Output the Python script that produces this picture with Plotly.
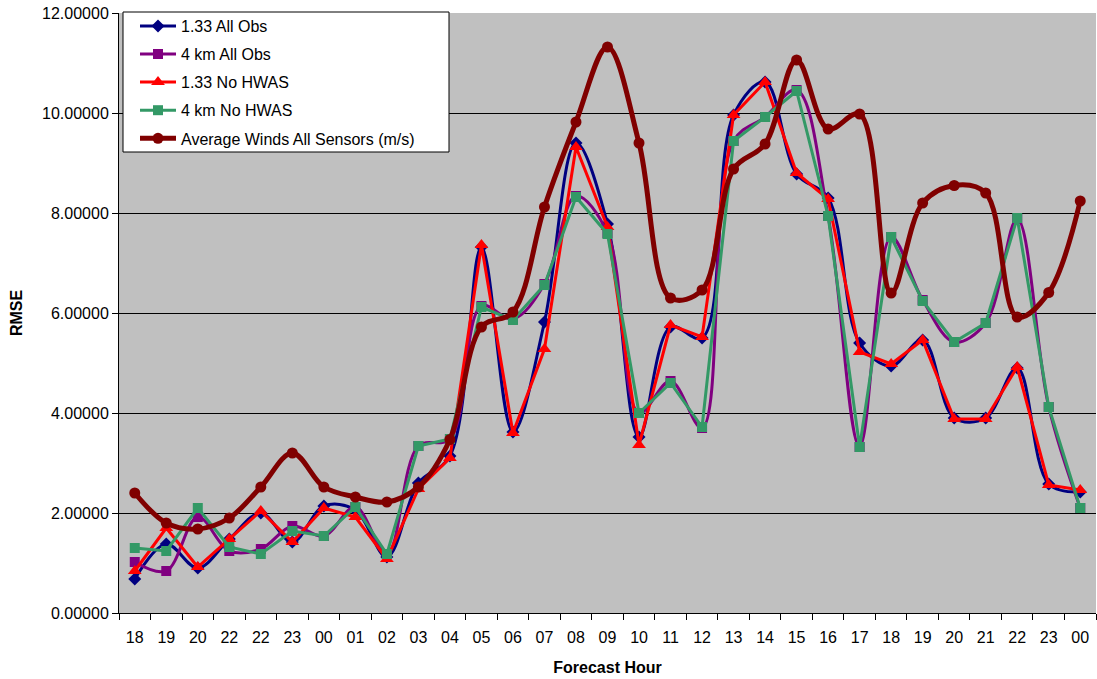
import plotly.graph_objects as go

# Forecast hour labels (31 consecutive forecast steps)
hours = ["18", "19", "20", "22", "22", "23", "00", "01", "02", "03", "04", "05",
         "06", "07", "08", "09", "10", "11", "12", "13", "14", "15", "16", "17",
         "18", "19", "20", "21", "22", "23", "00"]

all_obs_133 = [0.68, 1.38, 0.90, 1.48, 2.00, 1.42, 2.14, 2.06, 1.12, 2.60, 3.14,
               7.32, 3.62, 5.82, 9.40, 7.78, 3.52, 5.72, 5.50, 9.96, 10.62,
               8.78, 8.30, 5.40, 4.94, 5.46, 3.90, 3.90, 4.90, 2.58, 2.42]
all_obs_4km = [1.02, 0.84, 1.92, 1.24, 1.28, 1.74, 1.54, 2.12, 1.18, 3.34, 3.48,
               6.14, 5.88, 6.58, 8.34, 7.60, 4.00, 4.64, 3.70, 9.44, 9.92,
               10.46, 7.94, 3.32, 7.52, 6.26, 5.42, 5.80, 7.88, 4.12, 2.10]
no_hwas_133 = [0.84, 1.70, 0.92, 1.48, 2.04, 1.42, 2.10, 1.92, 1.08, 2.48, 3.10,
               7.36, 3.60, 5.28, 9.32, 7.72, 3.36, 5.76, 5.52, 9.96, 10.62,
               8.80, 8.28, 5.22, 4.98, 5.46, 3.88, 3.88, 4.92, 2.56, 2.46]
no_hwas_4km = [1.30, 1.24, 2.10, 1.32, 1.18, 1.64, 1.54, 2.12, 1.18, 3.34, 3.48,
               6.12, 5.86, 6.56, 8.32, 7.58, 4.00, 4.60, 3.72, 9.44, 9.92,
               10.44, 7.94, 3.32, 7.52, 6.24, 5.42, 5.80, 7.90, 4.12, 2.10]
avg_winds = [2.40, 1.80, 1.68, 1.90, 2.52, 3.20, 2.52, 2.32, 2.22, 2.52, 3.47,
             5.72, 6.02, 8.12, 9.82, 11.32, 9.40, 6.30, 6.46, 8.88, 9.38,
             11.06, 9.68, 9.98, 6.40, 8.20, 8.55, 8.40, 5.92, 6.41, 8.24]

x = list(range(len(hours)))

series = [
    ("1.33 All Obs", all_obs_133, "#000080", "diamond", 10, "spline", 3),
    ("4 km All Obs", all_obs_4km, "#800080", "square", 10, "spline", 3),
    ("1.33 No HWAS", no_hwas_133, "#FF0000", "triangle-up", 12, "linear", 3),
    ("4 km No HWAS", no_hwas_4km, "#339966", "square", 10, "linear", 3),
    ("Average Winds All Sensors (m/s)", avg_winds, "#800000", "circle", 11, "spline", 5),
]

fig = go.Figure()
for name, vals, color, symbol, msize, shape, lw in series:
    fig.add_trace(go.Scatter(
        x=x, y=vals, name=name, mode="lines+markers",
        line=dict(color=color, width=lw, shape=shape, smoothing=1.0),
        marker=dict(symbol=symbol, size=msize, color=color),
        legendgroup=name,
    ))

font_main = "Liberation Sans, Arial, sans-serif"

# plot-area geometry in pixels, used to place the legend frame
L, R, T, B = 119, 1096, 13, 613
W, H = R - L, B - T


def px_x(p):
    return (p - L) / W


def px_y(p):
    return (B - p) / H


fig.update_layout(
    width=1097, height=679,
    margin=dict(l=L, r=1097 - R, t=T, b=679 - B),
    paper_bgcolor="white",
    plot_bgcolor="#C0C0C0",
    font=dict(family=font_main, size=16, color="black"),
    showlegend=True,
    legend=dict(
        x=px_x(135), y=px_y(9), xanchor="left", yanchor="top",
        bgcolor="rgba(0,0,0,0)", borderwidth=0,
        font=dict(size=16), tracegroupgap=4.3,
        traceorder="grouped", itemwidth=36,
    ),
    shapes=[dict(
        type="rect", xref="paper", yref="paper",
        x0=px_x(123), x1=px_x(449), y0=px_y(152), y1=px_y(12),
        fillcolor="white", line=dict(color="black", width=1), layer="above",
    )],
)

fig.update_xaxes(
    range=[-0.5, len(hours) - 0.5],
    tickmode="array", tickvals=x, ticktext=hours,
    ticks="", showgrid=False, zeroline=False,
    showline=True, linecolor="black", linewidth=1,
    tickfont=dict(size=16), ticklabelstandoff=10,
    minor=dict(tick0=-0.5, dtick=1, ticks="outside", ticklen=6,
               tickcolor="black", showgrid=False),
    title=dict(text="<b>Forecast Hour</b>", font=dict(size=16), standoff=16),
)
fig.update_yaxes(
    range=[0, 12], dtick=2, tickformat=".5f",
    ticks="outside", ticklen=6, tickcolor="black",
    showgrid=True, gridcolor="black", gridwidth=1,
    zeroline=False, showline=True, linecolor="black", linewidth=1,
    tickfont=dict(size=16),
    title=dict(text="<b>RMSE</b>", font=dict(size=16), standoff=15),
)

fig.write_html("out.html")
